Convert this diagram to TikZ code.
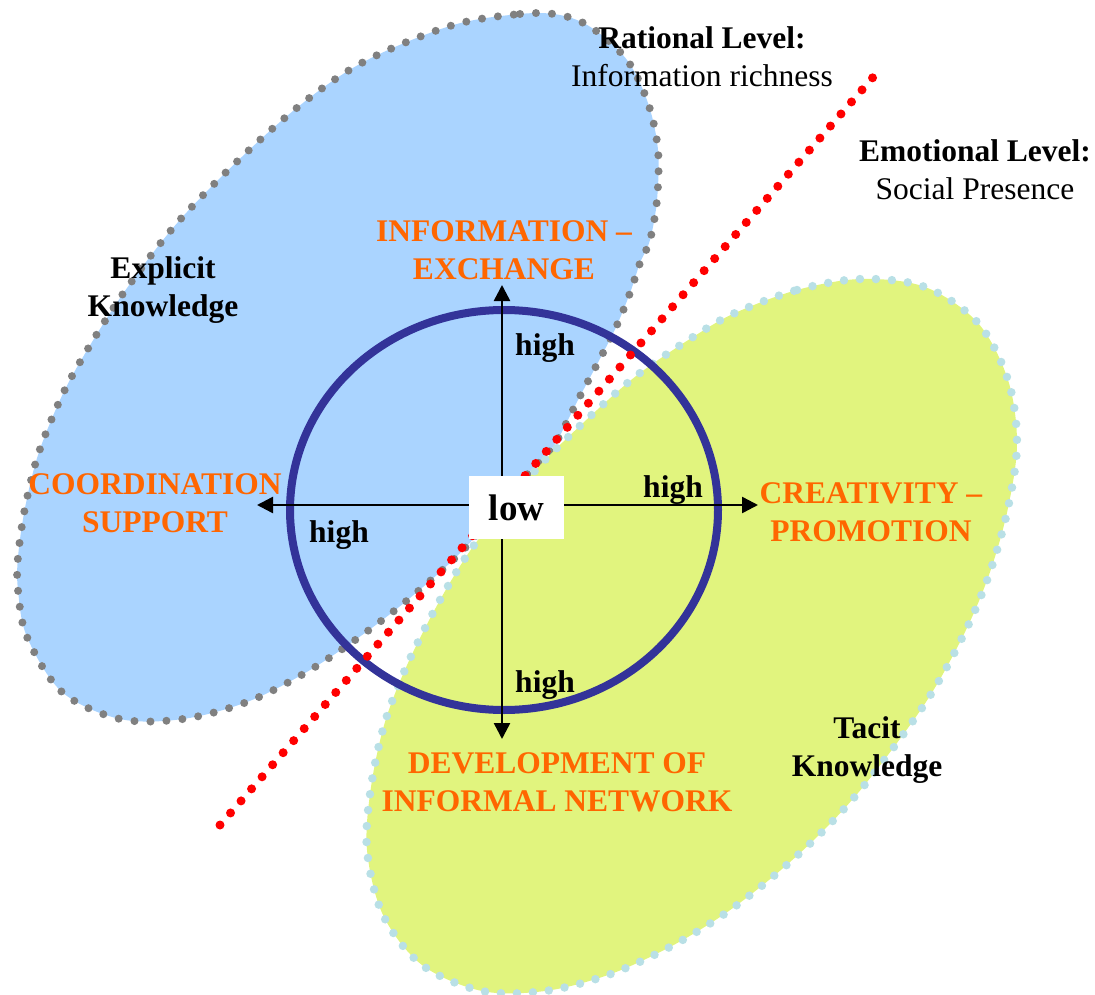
\documentclass[tikz,border=0pt]{standalone}
\usepackage{fontspec}
\setmainfont{Liberation Serif}
\usetikzlibrary{arrows.meta}
\definecolor{blfill}{HTML}{AAD4FF}
\definecolor{yefill}{HTML}{E1F47E}
\definecolor{grdot}{HTML}{808080}
\definecolor{lbdot}{HTML}{B9E0E6}
\definecolor{ringc}{HTML}{333399}
\definecolor{orng}{HTML}{FF6600}
\begin{document}
\begin{tikzpicture}[x=1pt,y=-1pt,
  dotline/.style={line width=#1, line cap=round, dash pattern=on 0pt off 16pt},
  txt/.style={font=\fontsize{31.5}{38}\selectfont, align=center, anchor=base, inner sep=0pt},
  btxt/.style={txt, font=\fontsize{31.5}{38}\selectfont\bfseries},
  otxt/.style={btxt, text=orng},
  arr/.style={line width=2.5pt, -{Triangle[length=16pt,width=16pt]}}]
\useasboundingbox (0,0) rectangle (1095,995);
% explicit knowledge region
\draw[fill=blfill, draw=grdot, dotline=8pt] plot[smooth cycle, tension=0.55] coordinates {
 (450,26) (520,14) (560,15) (592,28) (627,60) (648,103) (658,150) (657,200) (650,240)
 (640,263) (630,293) (617,325) (603,353) (578,400) (553,447) (525,477) (465,548)
 (410,598) (358,638) (305,673) (247,702) (183,719) (120,719) (62,692) (27,637)
 (18,590) (18,557) (25,508) (38,455) (60,400) (83,357) (127,288) (187,212) (280,122) (358,65)};
% tacit knowledge region
\draw[fill=yefill, draw=lbdot, dotline=8.5pt] plot[smooth cycle, tension=0.55] coordinates {
 (735,313) (797,290) (861,279) (925,287) (978,323) (1008,380) (1017,443) (1008,508)
 (990,572) (965,632) (926,702) (867,782) (823,831) (775,875) (723,915) (668,948)
 (608,975) (545,991) (482,991) (422,965) (383,915) (367,850) (371,787) (385,722)
 (408,663) (440,600) (472,548) (507,505) (543,462) (597,410) (640,373) (693,337)};
% ring
\draw[ringc, line width=8pt] (504,510) ellipse [x radius=214, y radius=200];
% dividing line
\coordinate (d1) at (220,825);
\coordinate (d2) at (875,75);
\draw[red, dotline=9pt] (d1) -- (d2);
% axes
\coordinate (c) at (502,505);
\coordinate (up) at (502,285);
\coordinate (dn) at (502,739);
\coordinate (lf) at (257,505);
\coordinate (rt) at (758,505);
\draw[arr] (c) -- (up);
\draw[arr] (c) -- (dn);
\draw[arr] (c) -- (lf);
\draw[arr] (c) -- (rt);
\node[fill=white, minimum width=95pt, minimum height=63pt, inner sep=0pt,
  font=\fontsize{37}{40}\selectfont\bfseries] (low) at (516.5,507.5) {low};
% high labels
\node[btxt] (h1) at (545,355) {high};
\node[btxt] (h2) at (673,497) {high};
\node[btxt] (h3) at (339,542) {high};
\node[btxt] (h4) at (545,692) {high};
% orange labels (anchor base = last line)
\node[otxt] (ie) at (504,279) {INFORMATION --\\EXCHANGE};
\node[otxt] (cs) at (155,532) {COORDINATION\\SUPPORT};
\node[otxt] (cp) at (871,541) {CREATIVITY --\\PROMOTION};
\node[otxt] (dn2) at (557,811) {DEVELOPMENT OF\\INFORMAL NETWORK};
% knowledge labels
\node[btxt] (ek) at (163,316) {Explicit\\Knowledge};
\node[btxt] (tk) at (867,776) {Tacit\\Knowledge};
% level labels
\node[txt] (rl) at (702,87) {\textbf{Rational Level:}\\Information richness};
\node[txt] (el) at (975,200) {\textbf{Emotional Level:}\\Social Presence};
\end{tikzpicture}
\end{document}
